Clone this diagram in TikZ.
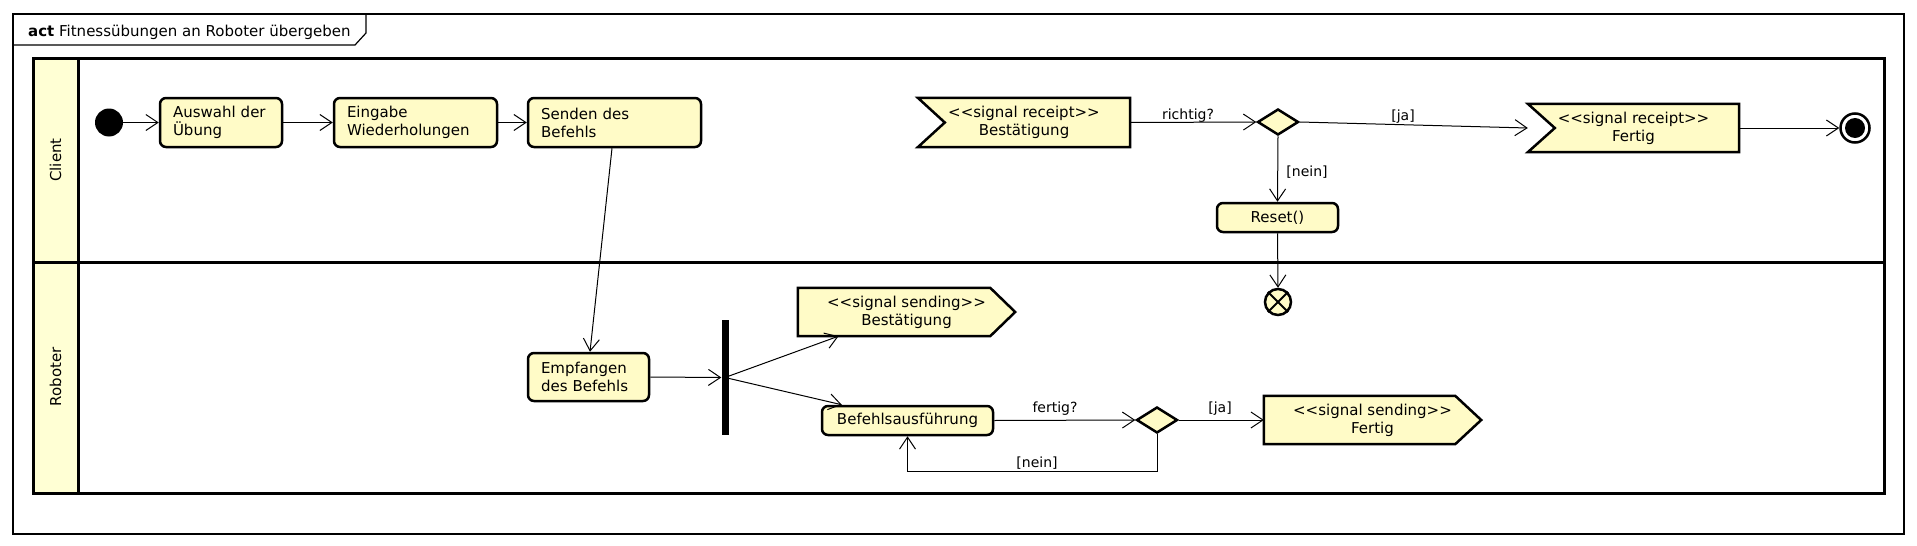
\documentclass[tikz,border=0pt]{standalone}
\usepackage{fontspec}
\setmainfont{DejaVu Sans}
\usetikzlibrary{arrows.meta,shapes.geometric,calc}
\pgfdeclarelayer{bg}
\pgfsetlayers{bg,main}
\definecolor{nodefill}{RGB}{255,251,199}
\definecolor{lanefill}{RGB}{255,255,212}
\newcommand\mysize{\fontsize{15pt}{18pt}\selectfont}
\newcommand\mylbl{\fontsize{14pt}{16pt}\selectfont}
\newcommand\mytitle{\fontsize{15pt}{17pt}\selectfont}
\tikzset{
  act/.style={draw, line width=2.5pt, rounded corners=6pt, fill=nodefill, inner xsep=13pt, inner ysep=0pt, font=\mysize},
  sigtext/.style={inner sep=0pt, align=center, font=\mysize},
  sigline/.style={draw, line width=2.5pt, fill=nodefill, line join=miter},
  flow/.style={line width=1pt, -{Straight Barb[length=12pt,width=16pt,line width=1pt]}},
  lbl/.style={font=\mylbl, inner sep=0pt, anchor=base},
  dec/.style={diamond, draw, line width=2.5pt, fill=nodefill, minimum width=41pt, minimum height=26pt, inner sep=0pt, aspect=1.6},
  lane/.style={line width=3pt},
}
\begin{document}
\begin{tikzpicture}[x=1pt,y=-1pt]
\useasboundingbox (0,0) rectangle (1917,546);
% outer frame
\draw[line width=1.2pt] (13,14) rectangle (1904,534);
\draw[line width=1.2pt] (13,45) -- (355,45) -- (366,33) -- (366,14);
\node[anchor=base west, inner sep=0pt, font=\mytitle] (title) at (28,36) {\textbf{act} Fitnessübungen an Roboter übergeben};
% swimlanes
\draw[lane, fill=lanefill] (33,58) rectangle (78,493);
\draw[lane] (33,58) rectangle (1884,493);
\draw[lane] (33,262) -- (1884,262);
\node[rotate=90, font=\mysize] (lclient) at (55.5,160) {Client};
\node[rotate=90, font=\mysize] (lrobot) at (55.5,377) {Roboter};
% Client lane
\node[circle, fill=black, minimum size=28pt, inner sep=0pt] (init) at (109,122.5) {};
\node[act, text width=96pt, minimum height=49pt, align=left] (auswahl) at (221,122.5) {Auswahl der\\Übung};
\node[act, text width=137pt, minimum height=49pt, align=left] (eingabe) at (415.5,122.5) {Eingabe\\Wiederholungen};
\node[act, text width=147pt, minimum height=49pt, align=left] (senden) at (614.5,122.5) {Senden des\\Befehls};
\node[sigtext, minimum width=212pt, minimum height=49pt] (brecv) at (1024,122.5) {<{}<signal receipt>{}>\\Bestätigung};
\node[dec] (dec1) at (1278,122) {};
\node[sigtext, minimum width=211pt, minimum height=48pt] (frecv) at (1633.5,128) {<{}<signal receipt>{}>\\Fertig};
\node[circle, draw, line width=2.5pt, fill=white, minimum size=29pt, inner sep=0pt] (final) at (1855,128) {};
\fill (final.center) circle (10);
\node[act, text width=95pt, minimum height=29pt, align=center] (reset) at (1277.5,217.5) {Reset()};
% Roboter lane
\node[circle, draw, line width=2.5pt, fill=nodefill, minimum size=26pt, inner sep=0pt] (exitn) at (1278,302) {};
\draw[line width=2pt] (exitn.north east) -- (exitn.south west) (exitn.north west) -- (exitn.south east);
\node[act, text width=95pt, minimum height=48pt, align=left] (empf) at (588.5,377) {Empfangen\\des Befehls};
\node[fill=black, minimum width=7pt, minimum height=115pt, inner sep=0pt] (fork) at (725,377.5) {};
\node[sigtext, minimum width=217pt, minimum height=48pt] (bsend) at (906.5,312) {<{}<signal sending>{}>\\Bestätigung};
\node[act, text width=145pt, minimum height=29pt, align=center] (befehl) at (907.5,420.5) {Befehlsausführung};
\node[dec] (dec2) at (1157,420) {};
\node[sigtext, minimum width=217pt, minimum height=48pt] (fsend) at (1372.5,420) {<{}<signal sending>{}>\\Fertig};
% signal shapes
\begin{pgfonlayer}{bg}
\path[sigline] (brecv.north west) -- (brecv.north east) -- (brecv.south east) -- (brecv.south west) -- ($(brecv.west)+(27,0)$) -- cycle;
\path[sigline] (frecv.north west) -- (frecv.north east) -- (frecv.south east) -- (frecv.south west) -- ($(frecv.west)+(27,0)$) -- cycle;
\path[sigline] (bsend.north west) -- ($(bsend.north east)+(-25,0)$) -- (bsend.east) -- ($(bsend.south east)+(-25,0)$) -- (bsend.south west) -- cycle;
\path[sigline] (fsend.north west) -- ($(fsend.north east)+(-26,0)$) -- (fsend.east) -- ($(fsend.south east)+(-26,0)$) -- (fsend.south west) -- cycle;
\end{pgfonlayer}
% connectors
\draw[flow] (init) -- (auswahl);
\draw[flow] (auswahl) -- (eingabe);
\draw[flow] (eingabe) -- (senden);
\draw[flow] ($(senden.south)+(-2.5,0)$) -- ($(empf.north)+(1.5,0)$);
\draw[flow] (empf.east) -- (fork.west);
\draw[flow] (fork.center) -- ($(bsend.south)+(-68,0)$);
\draw[flow] (fork.center) -- ($(befehl.north west)+(21,0)$);
\draw[flow] (befehl.east) -- (dec2.west);
\draw[flow] (dec2.east) -- (fsend.west);
\draw[flow] (dec2.south) -- ++(0,37) -| (befehl.south);
\draw[flow] (brecv.east) -- (dec1.west);
\draw[flow] (dec1.east) -- (frecv.west);
\draw[flow] (dec1.south) -- (reset.north);
\draw[flow] (reset.south) -- (exitn.north);
\draw[flow] (frecv.east) -- (final.west);
% labels
\node[lbl] (l1) at (1188,119) {richtig?};
\node[lbl] (l2) at (1403,120) {[ja]};
\node[lbl] (l3) at (1307,176) {[nein]};
\node[lbl] (l4) at (1055,412) {fertig?};
\node[lbl] (l5) at (1220,412) {[ja]};
\node[lbl] (l6) at (1037,467) {[nein]};
\end{tikzpicture}
\end{document}
